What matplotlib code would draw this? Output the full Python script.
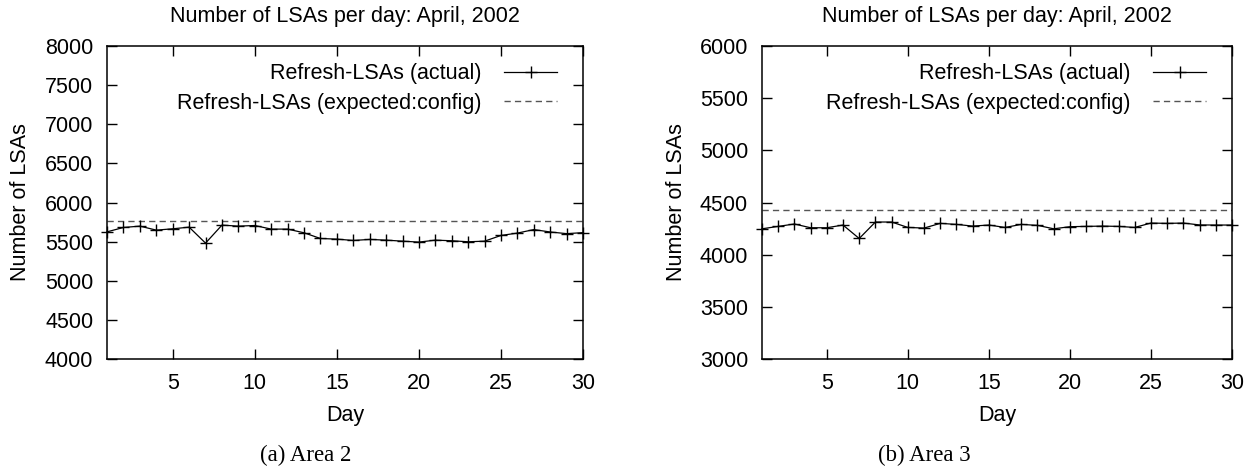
import numpy as np
import matplotlib
matplotlib.use('Agg')
import matplotlib.pyplot as plt

plt.rcParams['font.family'] = ['Liberation Sans', 'DejaVu Sans']

days = np.arange(1, 31)

# Area 2: refresh LSAs per day
area2_actual = [5625, 5681, 5698, 5647, 5664, 5685, 5481, 5711, 5698, 5706,
                5660, 5660, 5613, 5540, 5532, 5515, 5528, 5519, 5506, 5494,
                5519, 5511, 5498, 5506, 5579, 5609, 5654, 5623, 5602, 5615]
area2_expected = 5765

# Area 3: refresh LSAs per day
area3_actual = [4248, 4271, 4294, 4258, 4258, 4284, 4155, 4313, 4313, 4261,
                4255, 4300, 4290, 4274, 4284, 4261, 4290, 4281, 4248, 4268,
                4271, 4274, 4271, 4261, 4303, 4300, 4303, 4285, 4284, 4284]
area3_expected = 4425

panels = [
    (area2_actual, area2_expected, (4000, 8000), '(a) Area 2'),
    (area3_actual, area3_expected, (3000, 6000), '(b) Area 3'),
]

fig = plt.figure(figsize=(12.58, 4.68), dpi=100)
axes_pos = [[0.0851, 0.2329, 0.3784, 0.6688],
            [0.6057, 0.2329, 0.3736, 0.6688]]
caption_x = [0.243, 0.735]

for i, (actual, expected, ylim, caption) in enumerate(panels):
    ax = fig.add_axes(axes_pos[i])
    ax.plot(days, actual, color='black', lw=0.9, marker='+', ms=8, mew=1.0,
            clip_on=False, zorder=3, label='Refresh-LSAs (actual)')
    ax.axhline(expected, color='#555555', lw=1.0, dashes=(4.5, 3),
               label='Refresh-LSAs (expected:config)')

    ax.set_xlim(1, 30)
    ax.set_ylim(*ylim)
    ax.set_xticks([5, 10, 15, 20, 25, 30])
    ax.set_yticks(np.arange(ylim[0], ylim[1] + 1, 500))
    ax.tick_params(direction='in', length=7, width=1, top=True, right=True,
                   labelsize=15.5, pad=10)
    for s in ax.spines.values():
        s.set_linewidth(1.1)

    ax.set_title('Number of LSAs per day: April, 2002', fontsize=15.5, pad=17)
    ax.set_xlabel('Day', fontsize=15.5)
    ax.set_ylabel('Number of LSAs', fontsize=15.5)
    ax.xaxis.set_label_coords(0.5, -0.147)
    ax.yaxis.set_label_coords(-0.16, 0.5)

    ax.legend(loc='upper right', bbox_to_anchor=(0.945, 0.945), frameon=False,
              markerfirst=False, fontsize=15.5, handlelength=2.45,
              handletextpad=1.05, labelspacing=0.4, borderpad=0,
              borderaxespad=0)

    fig.text(caption_x[i], 0.026, caption, ha='center', va='center',
             fontsize=16.5, family='Liberation Serif')

fig.savefig('out.png', dpi=100)
